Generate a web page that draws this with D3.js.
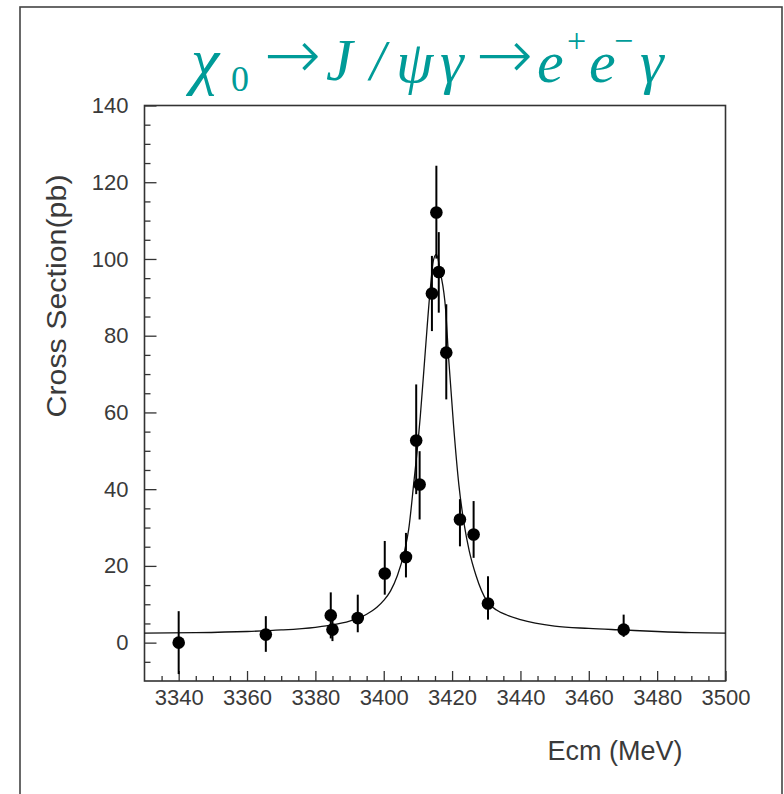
<!DOCTYPE html>
<html><head><meta charset="utf-8">
<script src="https://cdn.jsdelivr.net/npm/d3@7"></script>
<style>body{margin:0;background:#fff}</style>
</head><body><svg id="c" width="784" height="794"></svg>
<script>
// Measured points
const energy = [3340, 3365.5, 3384.5, 3385, 3392.4, 3400.3, 3406.5, 3409.5, 3410.5, 3414.1, 3415.4, 3416.1, 3418.3, 3422.3, 3426.3, 3430.5, 3470.2];
const xsec   = [0, 2.1, 7.1, 3.4, 6.4, 18.0, 22.3, 52.7, 41.2, 91.0, 112.1, 96.6, 75.6, 32.1, 28.2, 10.2, 3.4];
const errUp  = [8.2, 4.8, 6.0, 3.0, 6.1, 8.5, 6.3, 14.6, 8.7, 9.8, 12.2, 10.4, 12.6, 5.3, 8.7, 7.1, 3.9];
const errDn  = [8.2, 4.5, 6.0, 3.0, 3.7, 5.5, 5.3, 14.0, 9.1, 9.8, 12.0, 10.6, 12.2, 7.0, 6.1, 4.2, 1.9];
// Fit curve
const fitE = [3330, 3345, 3360, 3370, 3380, 3385, 3390, 3395, 3398, 3400, 3402, 3404, 3406, 3407.3, 3408.8, 3410, 3410.7, 3412.2, 3413.6, 3414.6, 3415.4, 3416.6, 3418.1, 3419, 3420.4, 3422, 3423.5, 3425, 3427, 3430.2, 3433, 3436, 3440, 3450, 3460, 3470, 3480, 3490, 3500];
const fitV = [2.5, 2.6, 2.9, 3.3, 4.0, 4.6, 5.6, 7.4, 9.2, 11.0, 13.5, 17.5, 23.5, 29.5, 41.7, 52, 59, 76.4, 92, 99.9, 101.2, 96.4, 86.9, 74, 57, 41, 31, 24, 17.5, 10.8, 8.5, 7.2, 6.0, 4.3, 3.7, 3.3, 2.9, 2.6, 2.5];
const xMajor = [3340, 3360, 3380, 3400, 3420, 3440, 3460, 3480, 3500];
const yMajor = [0, 20, 40, 60, 80, 100, 120, 140];
const xMinor = d3.range(3335, 3500, 5).filter(v => v % 20 !== 0);
const yMinor = d3.range(-5, 140, 5).filter(v => v % 20 !== 0);
const xLabel = "Ecm (MeV)";
const yLabel = "Cross Section(pb)";

const svg = d3.select("#c");
const L = 144.5, R = 725.5, T = 105.5, B = 681;
const x = d3.scaleLinear().domain([3330, 3500]).range([L, R]);
const y = d3.scaleLinear().domain([-10, 140]).range([B, T]);
const ink = "#333";

// outer frame
svg.append("rect").attr("x", 20).attr("y", 7).attr("width", 762).attr("height", 820)
  .attr("fill", "none").attr("stroke", "#444").attr("stroke-width", 1.6);

// title
const title = svg.append("text").attr("fill", "#009b98").attr("font-family", "Liberation Serif, Times New Roman, serif");
const parts = [
  {t: "χ", x: 191, y: 82, s: 64, i: true},
  {t: "0", x: 231, y: 91, s: 36, i: false},
  {t: "→", x: 264, y: 78, s: 68, i: false, f: "DejaVu Sans", w: 200},
  {t: "J", x: 326, y: 80, s: 60, i: true},
  {t: "/", x: 370, y: 80, s: 56, i: true},
  {t: "ψ", x: 396, y: 82, s: 60, i: true},
  {t: "γ", x: 440, y: 82, s: 60, i: true},
  {t: "→", x: 476, y: 78, s: 68, i: false, f: "DejaVu Sans", w: 200},
  {t: "e", x: 537, y: 82, s: 60, i: true},
  {t: "+", x: 567, y: 52, s: 34, i: false},
  {t: "e", x: 589, y: 82, s: 60, i: true},
  {t: "−", x: 614, y: 52, s: 34, i: false},
  {t: "γ", x: 640, y: 82, s: 60, i: true}
];
parts.forEach(p => {
  const ts = title.append("tspan").attr("x", p.x).attr("y", p.y).attr("font-size", p.s)
    .attr("font-style", p.i ? "italic" : "normal").text(p.t);
  if (p.f) ts.attr("font-family", p.f);
  if (p.w) ts.attr("font-weight", p.w);
});

// axes
const gx = svg.append("g").attr("transform", `translate(0,${B})`)
  .call(d3.axisBottom(x).tickValues(xMajor).tickSizeInner(-10).tickSizeOuter(0).tickPadding(8).tickFormat(d3.format("d")));
const gxm = svg.append("g").attr("transform", `translate(0,${B})`)
  .call(d3.axisBottom(x).tickValues(xMinor).tickSizeInner(-5).tickSizeOuter(0).tickFormat(""));
const gy = svg.append("g").attr("transform", `translate(${L},0)`)
  .call(d3.axisLeft(y).tickValues(yMajor).tickSizeInner(-12).tickSizeOuter(0).tickPadding(16).tickFormat(d3.format("d")));
const gym = svg.append("g").attr("transform", `translate(${L},0)`)
  .call(d3.axisLeft(y).tickValues(yMinor).tickSizeInner(-6).tickSizeOuter(0).tickFormat(""));
[gx, gxm, gy, gym].forEach(g => {
  g.select(".domain").remove();
  g.selectAll(".tick line").attr("stroke", ink).attr("stroke-width", 1.3);
  g.selectAll(".tick text").attr("fill", "#3a3a3a").attr("font-size", 22)
    .attr("font-family", "Liberation Sans, Arial, sans-serif");
});
gx.selectAll(".tick text").attr("dy", "0.72em");

// plot frame
svg.append("rect").attr("x", L).attr("y", T).attr("width", R - L).attr("height", B - T)
  .attr("fill", "none").attr("stroke", ink).attr("stroke-width", 1.6);

// fit curve
const fit = fitE.map((e, i) => [e, fitV[i]]);
svg.append("path").datum(fit)
  .attr("d", d3.line().x(d => x(d[0])).y(d => y(d[1])).curve(d3.curveMonotoneX))
  .attr("fill", "none").attr("stroke", "#111").attr("stroke-width", 1.3);

// error bars and points
const pts = energy.map((e, i) => ({e, v: xsec[i], up: errUp[i], dn: errDn[i]}));
svg.append("g").selectAll("line").data(pts).join("line")
  .attr("x1", d => x(d.e)).attr("x2", d => x(d.e))
  .attr("y1", d => y(Math.max(d.v - d.dn, -10))).attr("y2", d => y(d.v + d.up))
  .attr("stroke", "#000").attr("stroke-width", 2);
svg.append("g").selectAll("circle").data(pts).join("circle")
  .attr("cx", d => x(d.e)).attr("cy", d => y(d.v)).attr("r", 6.3).attr("fill", "#000");

// axis labels
svg.append("text").attr("x", 615).attr("y", 760).attr("text-anchor", "middle")
  .attr("font-family", "Liberation Sans, Arial, sans-serif").attr("font-size", 27).attr("fill", "#3a3a3a")
  .text(xLabel);
svg.append("text").attr("transform", "translate(66,296) rotate(-90)").attr("text-anchor", "middle")
  .attr("font-family", "Liberation Sans, Arial, sans-serif").attr("font-size", 28).attr("fill", "#3a3a3a")
  .attr("textLength", 243).attr("lengthAdjust", "spacingAndGlyphs")
  .text(yLabel);
</script>
</body></html>
